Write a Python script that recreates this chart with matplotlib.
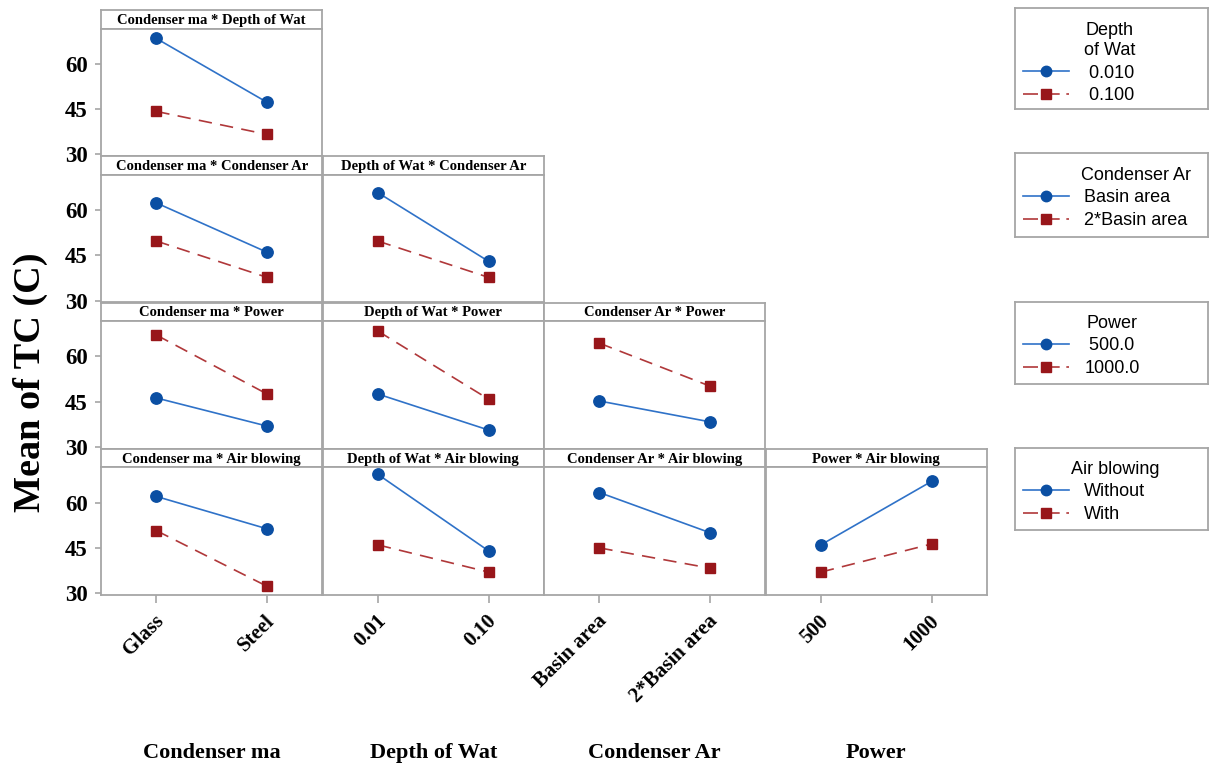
import matplotlib
matplotlib.use("Agg")
import matplotlib.pyplot as plt
from matplotlib.lines import Line2D
from matplotlib.transforms import ScaledTranslation

# ---------------- data ----------------
col_factors = ["Condenser ma", "Depth of Wat", "Condenser Ar", "Power"]
row_factors = ["Depth of Wat", "Condenser Ar", "Power", "Air blowing"]
col_levels = [["Glass", "Steel"], ["0.01", "0.10"], ["Basin area", "2*Basin area"], ["500", "1000"]]
legend_levels = [[" 0.010", " 0.100"], ["Basin area", "2*Basin area"], [" 500.0", "1000.0"], ["Without", "With"]]
legend_titles = ["Depth\nof Wat", "Condenser Ar", "Power", "Air blowing"]

# each panel: [blue series (level 1), red series (level 2)]
cm_depth = [[68.3, 47.2], [44.2, 36.6]]
cm_area = [[62.3, 46.0], [49.7, 37.7]]
depth_area = [[65.7, 43.0], [49.7, 37.7]]
cm_power = [[46.2, 36.9], [67.0, 47.5]]
depth_power = [[47.5, 35.6], [68.3, 45.8]]
area_power = [[45.2, 38.3], [64.3, 50.1]]
cm_air = [[62.0, 51.3], [50.7, 32.3]]
depth_air = [[69.3, 44.0], [46.0, 37.0]]
area_air = [[63.3, 50.0], [45.0, 38.3]]
power_air = [[46.0, 67.0], [37.0, 46.3]]

panels = {
    (0, 0): cm_depth,
    (1, 0): cm_area, (1, 1): depth_area,
    (2, 0): cm_power, (2, 1): depth_power, (2, 2): area_power,
    (3, 0): cm_air, (3, 1): depth_air, (3, 2): area_air, (3, 3): power_air,
}
yticks = [30, 45, 60]

# ---------------- style ----------------
W, H = 1215, 770
fig = plt.figure(figsize=(W / 100, H / 100), dpi=100)
SERIF = ["Liberation Serif", "DejaVu Serif"]
SANS = ["Liberation Sans", "DejaVu Sans"]
FRAME = "#a6a6a6"
BLUE_M = "#0b4fa3"
BLUE_L = "#2f72c8"
RED_M = "#98161a"
RED_L = "#b0383a"
DASH = (8, 5)


def ax_px(x0, y0, x1, y1):
    return [x0 / W, 1 - y1 / H, (x1 - x0) / W, (y1 - y0) / H]


col_edges = [101, 322.5, 544, 765.5, 987]
row_top = [10, 156.3, 302.6, 448.9]
row_h = 146.2
strip_h = 18.5
shift = ScaledTranslation(5 / 100, 4 / 100, fig.dpi_scale_trans)

for (r, c), vals in panels.items():
    x0, x1 = col_edges[c], col_edges[c + 1]
    t = row_top[r]
    # strip
    sax = fig.add_axes(ax_px(x0, t, x1, t + strip_h))
    sax.set_xticks([]); sax.set_yticks([])
    for s in sax.spines.values():
        s.set_color(FRAME); s.set_linewidth(1.3)
    sax.text(0.5, 0.45, f"{col_factors[c]} * {row_factors[r]}", ha="center", va="center",
             fontsize=10.5, fontweight="bold", family=SERIF, transform=sax.transAxes)
    # plot area
    ax = fig.add_axes(ax_px(x0, t + strip_h, x1, t + row_h))
    xs = [0, 1]
    ax.plot(xs, vals[0], color=BLUE_L, lw=1.2, zorder=2)
    ax.plot(xs, vals[0], ls="none", marker="o", ms=8.2, color=BLUE_M, zorder=3)
    ax.plot(xs, vals[1], color=RED_L, lw=1.2, dashes=DASH, zorder=2)
    ax.plot(xs, vals[1], ls="none", marker="s", ms=7.8, color=RED_M, zorder=3)
    ax.set_xlim(-0.5, 1.5)
    ax.set_ylim(29.4, 71.6)
    for s in ax.spines.values():
        s.set_color(FRAME); s.set_linewidth(1.3)
    ax.tick_params(colors=FRAME, length=4.5, width=1.2, pad=5)
    if c == 0:
        ax.set_yticks(yticks)
        ax.set_yticklabels([str(v) for v in yticks], fontsize=16.5, fontweight="bold",
                           family=SERIF, color="black")
    else:
        ax.set_yticks([])
    if r == 3:
        ax.set_xticks(xs)
        labs = ax.set_xticklabels(col_levels[c], rotation=45, ha="right", va="center",
                                  rotation_mode="anchor", fontsize=15, fontweight="bold",
                                  family=SERIF, color="black")
        ax.tick_params(axis="x", pad=14, length=5.5)
        for lab in labs:
            lab.set_transform(lab.get_transform() + shift)
        ax.text(0.5, -1.24, col_factors[c], transform=ax.transAxes, ha="center", va="center",
                fontsize=16, fontweight="bold", family=SERIF)
    else:
        ax.set_xticks([])

fig.text(30 / W, 1 - 382 / H, "Mean of TC (C)", rotation=90, ha="center", va="center",
         fontsize=27.5, fontweight="bold", family=SERIF)

# legends: box (x0, y0, x1, y1) and y-centre of the first entry, in pixels
leg_boxes = [(1015, 8, 1208, 109), (1015, 153, 1208, 237), (1015, 302, 1208, 384), (1015, 448, 1208, 530)]
first_entry = [71, 196, 344, 490]
TITLE_GAP = 22.0   # px from first entry centre to last title line centre
LINE_PITCH = 21.0  # px between title lines
legs = []
for i, (bx0, by0, bx1, by1) in enumerate(leg_boxes):
    lax = fig.add_axes(ax_px(bx0, by0, bx1, by1))
    lax.set_xticks([]); lax.set_yticks([])
    for s in lax.spines.values():
        s.set_color(FRAME); s.set_linewidth(1.3)
    handles = [
        Line2D([], [], color=BLUE_L, lw=1.2, marker="o", ms=7.5, mfc=BLUE_M, mec=BLUE_M),
        Line2D([], [], color=RED_L, lw=1.2, dashes=(9, 4), marker="s", ms=7.5, mfc=RED_M, mec=RED_M),
    ]
    bh = by1 - by0
    top_frac = 1 - (first_entry[i] - 11.5 - by0) / bh
    leg = lax.legend(handles, legend_levels[i], loc="upper left",
                     bbox_to_anchor=(8 / (bx1 - bx0), top_frac), frameon=False,
                     handlelength=2.55, handletextpad=0.85, labelspacing=0.3,
                     borderaxespad=0, borderpad=0,
                     prop={"family": SANS, "size": 13})
    legs.append((lax, leg, i, top_frac, bx1 - bx0, bh))

# correct vertical placement so the first entry sits where it should
fig.canvas.draw()
renderer = fig.canvas.get_renderer()
for lax, leg, i, top_frac, bw, bh in legs:
    bb = leg.get_texts()[0].get_window_extent(renderer)
    yc_px_from_top = H - (bb.y0 + bb.y1) / 2
    err = yc_px_from_top - (first_entry[i] + 2)
    leg.set_bbox_to_anchor((8 / bw, top_frac + err / bh), transform=lax.transAxes)

fig.canvas.draw()
for lax, leg, i, top_frac, bw, bh in legs:
    bbs = [tx.get_window_extent(renderer) for tx in leg.get_texts()]
    xc = (min(b.x0 for b in bbs) + max(b.x1 for b in bbs)) / 2
    yc0 = (bbs[0].y0 + bbs[0].y1) / 2
    nlines = legend_titles[i].count("\n") + 1
    title_center = yc0 + TITLE_GAP + (nlines - 1) * LINE_PITCH / 2
    ax_x, ax_y = lax.transAxes.inverted().transform((xc, title_center))
    lax.text(ax_x, ax_y, legend_titles[i], ha="center", va="center", multialignment="center",
             transform=lax.transAxes, family=SANS, fontsize=13, linespacing=1.2)

fig.savefig("out.png", dpi=100)
